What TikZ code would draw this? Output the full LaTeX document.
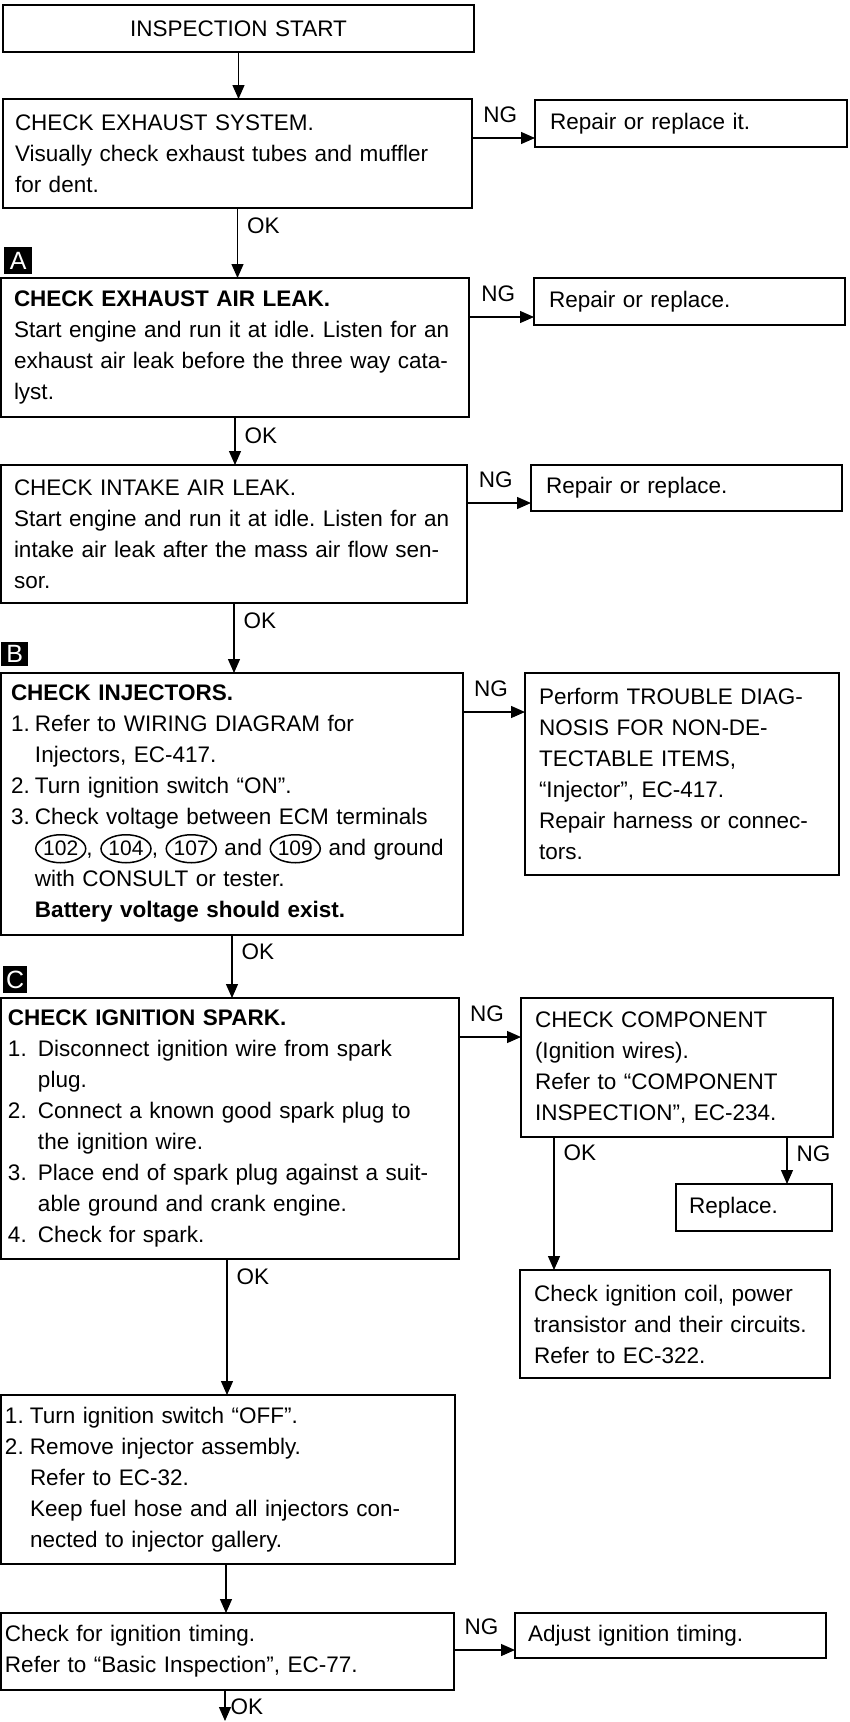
\documentclass[tikz,border=0pt]{standalone}
\usepackage{fontspec}
\setmainfont{Liberation Sans}
\usetikzlibrary{arrows.meta,shapes.geometric,calc}
\frenchspacing
\newcommand\fsz{\fontsize{22.5}{31}\selectfont}
\newcommand\cnum[1]{\tikz[baseline=(cn.base)]\node[draw,ellipse,line width=1.5pt,inner sep=0pt,minimum width=50pt,minimum height=28pt,font=\fontsize{21}{21}\selectfont](cn){#1};}
\newcommand\nb[2]{\makebox[#1pt][l]{#2}}
\begin{document}
\begin{tikzpicture}[x=1pt,y=-1pt,
  box/.style={draw, line width=1.5pt, anchor=north west, align=left, inner ysep=0pt, outer sep=0pt, font=\fsz},
  arr/.style={line width=1.3pt, -{Triangle[width=12pt,length=14pt]}},
  lab/.style={font=\fsz, inner sep=0pt},
  marker/.style={fill=black, text=white, anchor=north west, inner sep=0pt, font=\fontsize{25}{25}\selectfont}]
\fill[white] (0,0) rectangle (849,1722);
\useasboundingbox (0,0) rectangle (849,1722);

% boxes
\node[box, align=center, minimum width=471pt, minimum height=47pt, inner xsep=10pt, text width=451pt] (start) at (3,5) {INSPECTION START};

\node[box, minimum width=469pt, minimum height=109pt, inner xsep=12pt, text width=445pt] (b1) at (3,99)
 {CHECK EXHAUST SYSTEM.\\Visually check exhaust tubes and muffler\\for dent.};
\node[box, minimum width=312pt, minimum height=47pt, inner xsep=15pt, text width=282pt] (r1) at (535,100)
 {Repair or replace it.};

\node[marker, minimum width=28pt, minimum height=27pt] (mA) at (4,247) {A};

\node[box, minimum width=468pt, minimum height=139pt, inner xsep=13pt, text width=442pt] (b2) at (1,278)
 {\textbf{CHECK EXHAUST AIR LEAK.}\\Start engine and run it at idle. Listen for an\\exhaust air leak before the three way cata-\\lyst.};
\node[box, minimum width=311pt, minimum height=47pt, inner xsep=15pt, text width=281pt] (r2) at (534,278)
 {Repair or replace.};

\node[box, minimum width=466pt, minimum height=138pt, inner xsep=13pt, text width=440pt] (b3) at (1,465)
 {CHECK INTAKE AIR LEAK.\\Start engine and run it at idle. Listen for an\\intake air leak after the mass air flow sen-\\sor.};
\node[box, minimum width=311pt, minimum height=46pt, inner xsep=15pt, text width=281pt] (r3) at (531,465)
 {Repair or replace.};

\node[marker, minimum width=27pt, minimum height=24pt] (mB) at (1,642) {B};

\node[box, minimum width=462pt, minimum height=262pt, inner xsep=10pt, text width=442pt] (b4) at (1,673)
 {\textbf{CHECK INJECTORS.}\\
  \nb{24}{1.}Refer to WIRING DIAGRAM for\\
  \hspace*{24pt}Injectors, EC-417.\\
  \nb{24}{2.}Turn ignition switch “ON”.\\
  \nb{24}{3.}Check voltage between ECM terminals\\
  \hspace*{24pt}\cnum{102}, \cnum{104}, \cnum{107} and \cnum{109} and ground\\
  \hspace*{24pt}with CONSULT or tester.\\
  \hspace*{24pt}\textbf{Battery voltage should exist.}};
\node[box, minimum width=314pt, minimum height=202pt, inner xsep=14pt, text width=286pt] (r4) at (525,673)
 {Perform TROUBLE DIAG-\\NOSIS FOR NON-DE-\\TECTABLE ITEMS,\\“Injector”, EC-417.\\Repair harness or connec-\\tors.};

\node[marker, minimum width=24pt, minimum height=27pt] (mC) at (3,966) {C};

\node[box, minimum width=458pt, minimum height=261pt, inner xsep=7pt, text width=444pt] (b5) at (1,998)
 {\textbf{CHECK IGNITION SPARK.}\\
  \nb{30}{1.}Disconnect ignition wire from spark\\
  \hspace*{30pt}plug.\\
  \nb{30}{2.}Connect a known good spark plug to\\
  \hspace*{30pt}the ignition wire.\\
  \nb{30}{3.}Place end of spark plug against a suit-\\
  \hspace*{30pt}able ground and crank engine.\\
  \nb{30}{4.}Check for spark.};
\node[box, minimum width=312pt, minimum height=139pt, inner xsep=14pt, text width=284pt] (r5) at (521,998)
 {CHECK COMPONENT\\(Ignition wires).\\Refer to “COMPONENT\\INSPECTION”, EC-234.};
\node[box, minimum width=156pt, minimum height=47pt, inner xsep=13pt, text width=130pt] (rep) at (676,1184)
 {Replace.};
\node[box, minimum width=310pt, minimum height=108pt, inner xsep=14pt, text width=282pt] (coil) at (520,1270)
 {Check ignition coil, power\\transistor and their circuits.\\Refer to EC-322.};

\node[box, minimum width=454pt, minimum height=169pt, inner xsep=4pt, text width=446pt] (b6) at (1,1395)
 {\nb{25}{1.}Turn ignition switch “OFF”.\\
  \nb{25}{2.}Remove injector assembly.\\
  \hspace*{25pt}Refer to EC-32.\\
  \hspace*{25pt}Keep fuel hose and all injectors con-\\
  \hspace*{25pt}nected to injector gallery.};

\node[box, minimum width=453pt, minimum height=77pt, inner xsep=4pt, text width=445pt] (b7) at (1,1613)
 {Check for ignition timing.\\Refer to “Basic Inspection”, EC-77.};
\node[box, minimum width=311pt, minimum height=45pt, inner xsep=13pt, text width=285pt] (r7) at (515,1613)
 {Adjust ignition timing.};

\coordinate (end) at (225,1721);

% main line
\draw[arr] (start.south) -- (start.south |- b1.north);
\draw[arr] (b1.south) -- (b1.south |- b2.north) node[lab, pos=0.25, anchor=west, xshift=9pt] {OK};
\draw[arr] (b2.south) -- (b2.south |- b3.north) node[lab, pos=0.39, anchor=west, xshift=9pt] {OK};
\draw[arr] (b3.south) -- (b3.south |- b4.north) node[lab, pos=0.26, anchor=west, xshift=9pt] {OK};
\draw[arr] (b4.south) -- (b4.south |- b5.north) node[lab, pos=0.27, anchor=west, xshift=9pt] {OK};
\draw[arr] ([xshift=-3pt]b5.south) -- ([xshift=-3pt]b5.south |- b6.north) node[lab, pos=0.13, anchor=west, xshift=9pt] {OK};
\draw[arr] ([xshift=-2pt]b6.south) -- ([xshift=-2pt]b6.south |- b7.north);
\draw[arr] (end |- b7.south) -- (end) node[lab, pos=0.55, anchor=west, xshift=5pt] {OK};

% NG branches
\draw[arr] ([yshift=-39pt]b1.north east) -- ([yshift=-39pt]b1.north east -| r1.west) node[lab, pos=0.45, yshift=23pt] {NG};
\draw[arr] ([yshift=-39pt]b2.north east) -- ([yshift=-39pt]b2.north east -| r2.west) node[lab, pos=0.45, yshift=23pt] {NG};
\draw[arr] ([yshift=-38pt]b3.north east) -- ([yshift=-38pt]b3.north east -| r3.west) node[lab, pos=0.45, yshift=23pt] {NG};
\draw[arr] ([yshift=-39pt]b4.north east) -- ([yshift=-39pt]b4.north east -| r4.west) node[lab, pos=0.45, yshift=23pt] {NG};
\draw[arr] ([yshift=-39pt]b5.north east) -- ([yshift=-39pt]b5.north east -| r5.west) node[lab, pos=0.45, yshift=23pt] {NG};
\draw[arr] ([yshift=-37pt]b7.north east) -- ([yshift=-37pt]b7.north east -| r7.west) node[lab, pos=0.45, yshift=23pt] {NG};

% component branches
\draw[arr] ([xshift=33pt]r5.south west) -- ([xshift=33pt]r5.south west |- coil.north) node[lab, pos=0.12, anchor=west, xshift=9pt] {OK};
\draw[arr] ([xshift=266pt]r5.south west) -- ([xshift=266pt]r5.south west |- rep.north) node[lab, pos=0.35, anchor=west, xshift=9pt] {NG};
\end{tikzpicture}
\end{document}
